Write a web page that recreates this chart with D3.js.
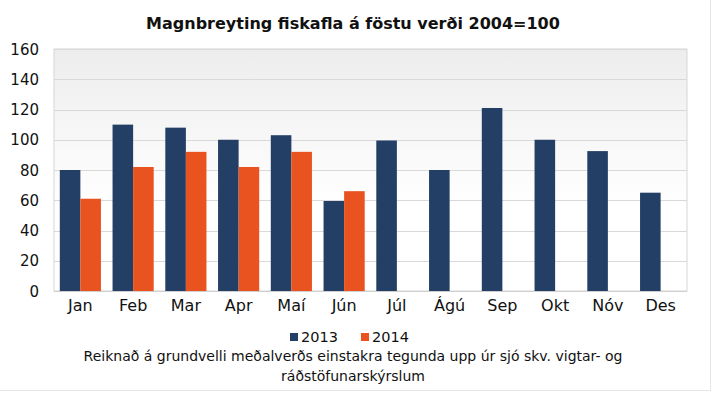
<!DOCTYPE html>
<html>
<head>
<meta charset="utf-8">
<script src="https://cdn.jsdelivr.net/npm/d3@7"></script>
<style>
  html, body { margin: 0; padding: 0; background: #fff; }
  svg { display: block; font-family: "DejaVu Sans", Verdana, sans-serif; }
</style>
</head>
<body>
<div id="chart"></div>
<script>
const months = ['Jan', 'Feb', 'Mar', 'Apr', 'Maí', 'Jún', 'Júl', 'Ágú', 'Sep', 'Okt', 'Nóv', 'Des'];
const years = ['2013', '2014'];
const values2013 = [80, 110, 108, 100, 103, 59.5, 99.5, 80, 121, 100, 92.5, 65];
const values2014 = [61, 82, 92, 82, 92, 66, null, null, null, null, null, null];
const yTicks = [0, 20, 40, 60, 80, 100, 120, 140, 160];
const title = 'Magnbreyting fiskafla á föstu verði 2004=100';
const note = ['Reiknað á grundvelli meðalverðs einstakra tegunda upp úr sjó skv. vigtar- og',
              'ráðstöfunarskýrslum'];

const W = 713, H = 398;
const plot = { left: 54, right: 687, top: 49, bottom: 291 };
const colors = { '2013': '#243f66', '2014': '#e8531f' };

const svg = d3.select('#chart').append('svg').attr('width', W).attr('height', H);

// outer frame
svg.append('rect').attr('x', -1).attr('y', -1).attr('width', 711.5).attr('height', 391.5)
  .attr('fill', '#fff').attr('stroke', '#e6e6e6');

// plot background gradient
const grad = svg.append('defs').append('linearGradient').attr('id', 'bg')
  .attr('x1', 0).attr('y1', 0).attr('x2', 0).attr('y2', 1);
grad.append('stop').attr('offset', '0%').attr('stop-color', '#ededed');
grad.append('stop').attr('offset', '65%').attr('stop-color', '#ffffff');

const x0 = d3.scaleBand().domain(months).range([plot.left, plot.right])
  .paddingInner(0.22).paddingOuter(0.11);
const x1 = d3.scaleBand().domain(years).range([0, x0.bandwidth()]);
const y = d3.scaleLinear().domain([0, 160]).range([plot.bottom, plot.top]);

svg.append('rect').attr('x', plot.left).attr('y', plot.top)
  .attr('width', plot.right - plot.left).attr('height', plot.bottom - plot.top)
  .attr('fill', 'url(#bg)').attr('stroke', '#d6d6d6');

// gridlines
svg.append('g').selectAll('line').data(yTicks.filter(d => d > 0)).join('line')
  .attr('x1', plot.left).attr('x2', plot.right)
  .attr('y1', d => Math.round(y(d)) + 0.5).attr('y2', d => Math.round(y(d)) + 0.5)
  .attr('stroke', '#d9d9d9');

// y labels
svg.append('g').selectAll('text').data(yTicks).join('text')
  .attr('x', 39).attr('y', d => y(d) + 5.5)
  .attr('text-anchor', 'end').attr('font-size', 15).attr('fill', '#111')
  .text(d => d);

// bars
const rows = months.map((m, i) => ({ month: m, vals: [
  { year: '2013', v: values2013[i] }, { year: '2014', v: values2014[i] }] }));
const groups = svg.append('g').selectAll('g').data(rows).join('g')
  .attr('transform', d => `translate(${x0(d.month)},0)`);
groups.selectAll('rect').data(d => d.vals.filter(e => e.v != null)).join('rect')
  .attr('x', d => x1(d.year)).attr('width', x1.bandwidth())
  .attr('y', d => y(d.v)).attr('height', d => y(0) - y(d.v))
  .attr('fill', d => colors[d.year]);

// bottom axis line
svg.append('line').attr('x1', plot.left).attr('x2', plot.right)
  .attr('y1', plot.bottom + 0.5).attr('y2', plot.bottom + 0.5).attr('stroke', '#cfcfcf');

// x labels
svg.append('g').selectAll('text').data(months).join('text')
  .attr('x', d => x0(d) + x0.bandwidth() / 2).attr('y', 311)
  .attr('text-anchor', 'middle').attr('font-size', 16).attr('fill', '#111')
  .text(d => d);

// title
svg.append('text').attr('x', 353).attr('y', 29).attr('text-anchor', 'middle')
  .attr('font-size', 16).attr('font-weight', 'bold').attr('fill', '#111')
  .text(title);

// legend
const legend = svg.append('g').selectAll('g').data(years).join('g')
  .attr('transform', (d, i) => `translate(${[290, 361][i]},0)`);
legend.append('rect').attr('x', 0).attr('y', 333).attr('width', 8).attr('height', 8)
  .attr('fill', d => colors[d]);
legend.append('text').attr('x', 11).attr('y', 342).attr('font-size', 14.5).attr('fill', '#111')
  .text(d => d);

// note
svg.append('g').selectAll('text').data(note).join('text')
  .attr('x', 353).attr('y', (d, i) => 361 + i * 20).attr('text-anchor', 'middle')
  .attr('font-size', 14).attr('fill', '#111')
  .text(d => d);
</script>
</body>
</html>
